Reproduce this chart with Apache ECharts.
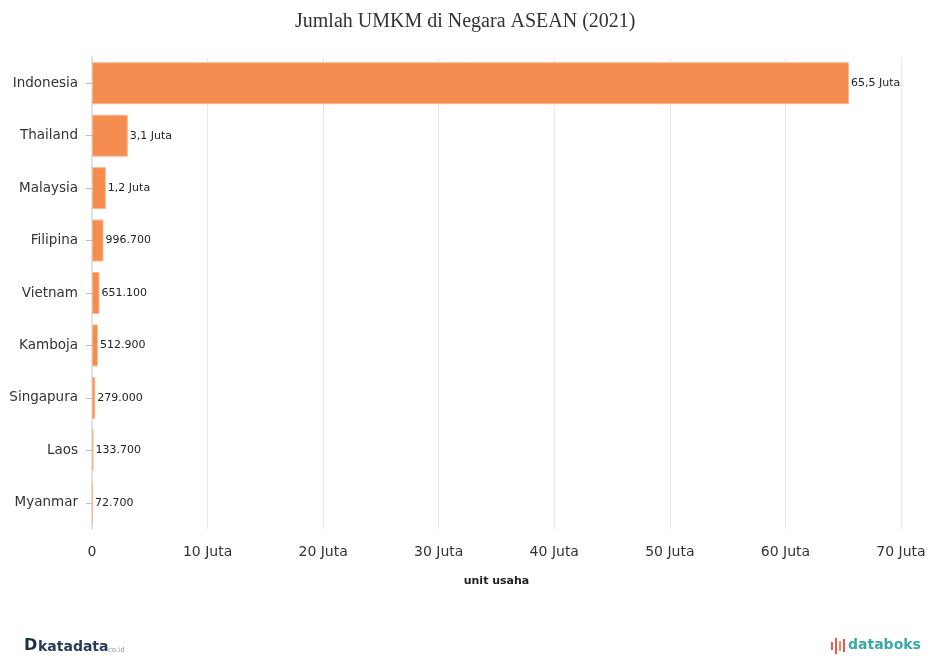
<!DOCTYPE html>
<html lang="id">

<head>
    <meta charset="UTF-8">
    <meta name="viewport" content="width=device-width, initial-scale=1.0">
    <title>Jumlah UMKM di Negara ASEAN (2021)</title>
    <script src="https://cdn.jsdelivr.net/npm/echarts@6/dist/echarts.min.js"></script>
    <style>
        html, body { margin: 0; padding: 0; background: #fff; }
    </style>
</head>

<body>
    <div id="chart" style="width:930px;height:656px;"></div>
    <script>
        // data (unit usaha)
        const countries = ['Indonesia', 'Thailand', 'Malaysia', 'Filipina', 'Vietnam', 'Kamboja', 'Singapura', 'Laos', 'Myanmar'];
        const umkm = [65500000, 3100000, 1200000, 996700, 651100, 512900, 279000, 133700, 72700];
        const xTicks = [0, 10000000, 20000000, 30000000, 40000000, 50000000, 60000000, 70000000];

        function fmtLabel(v) {
            if (v >= 1000000) return (v / 1000000).toFixed(1).replace('.', ',') + ' Juta';
            return String(v).replace(/\B(?=(\d{3})+(?!\d))/g, '.');
        }
        function fmtTick(v) {
            return v === 0 ? '0' : (v / 1000000) + ' Juta';
        }

        const chart = echarts.init(document.getElementById('chart'));
        const option = {
            backgroundColor: '#fff',
            animation: false,
            title: {
                text: 'Jumlah UMKM di Negara ASEAN (2021)',
                left: 290,
                top: 7,
                textStyle: { fontFamily: 'Liberation Serif', fontWeight: 'normal', fontSize: 20, color: '#333' }
            },
            grid: { left: 92, right: 29, top: 57, bottom: 127, containLabel: false },
            xAxis: {
                type: 'value',
                min: 0,
                max: xTicks[xTicks.length - 1],
                interval: 10000000,
                name: 'unit usaha',
                nameLocation: 'middle',
                nameGap: 47,
                nameTextStyle: { fontFamily: 'DejaVu Sans', fontSize: 11, fontWeight: 'bold', color: '#222' },
                axisLine: { show: false },
                axisTick: { show: false },
                axisLabel: {
                    formatter: fmtTick,
                    margin: 16,
                    fontFamily: 'DejaVu Sans',
                    fontSize: 14,
                    color: '#333'
                },
                splitLine: { show: true, lineStyle: { color: '#e8e8e8', width: 1 } }
            },
            yAxis: {
                type: 'category',
                inverse: true,
                data: countries,
                axisLine: { show: true, lineStyle: { color: '#e2e2e2', width: 2 } },
                axisTick: { show: true, alignWithLabel: true, length: 6, lineStyle: { color: '#bbb' } },
                axisLabel: { margin: 14, fontFamily: 'DejaVu Sans', fontSize: 13.5, color: '#333' }
            },
            series: [{
                type: 'bar',
                data: umkm,
                barCategoryGap: '20%',
                itemStyle: { color: '#f58c50', borderColor: '#f9b891', borderWidth: 1 },
                label: {
                    show: true,
                    position: 'right',
                    distance: 2,
                    formatter: p => fmtLabel(p.value),
                    fontFamily: 'DejaVu Sans',
                    fontSize: 11,
                    color: '#222'
                }
            }],
            graphic: [
                {
                    type: 'text', left: 24, top: 638,
                    style: { text: 'D', font: 'bold 16px "DejaVu Sans"', fill: '#1f2d4d' }
                },
                {
                    type: 'text', left: 38, top: 640,
                    style: { text: 'katadata', font: 'bold 14px "DejaVu Sans"', fill: '#2a3a5e' }
                },
                {
                    type: 'text', left: 108, top: 647,
                    style: { text: 'co.id', font: '7px "DejaVu Sans"', fill: '#8a96ad' }
                },
                { type: 'rect', left: 831, top: 642, shape: { width: 2, height: 8 }, style: { fill: '#e85a4f' } },
                { type: 'rect', left: 835, top: 638, shape: { width: 2, height: 16 }, style: { fill: '#e85a4f' } },
                { type: 'rect', left: 839, top: 641, shape: { width: 2, height: 10 }, style: { fill: '#f08a4b' } },
                { type: 'rect', left: 843, top: 639, shape: { width: 2, height: 13 }, style: { fill: '#e85a4f' } },
                {
                    type: 'text', left: 848, top: 638,
                    style: { text: 'databoks', font: 'bold 14px "DejaVu Sans"', fill: '#3aa9a5' }
                }
            ]
        };
        chart.setOption(option);
    </script>
</body>

</html>
